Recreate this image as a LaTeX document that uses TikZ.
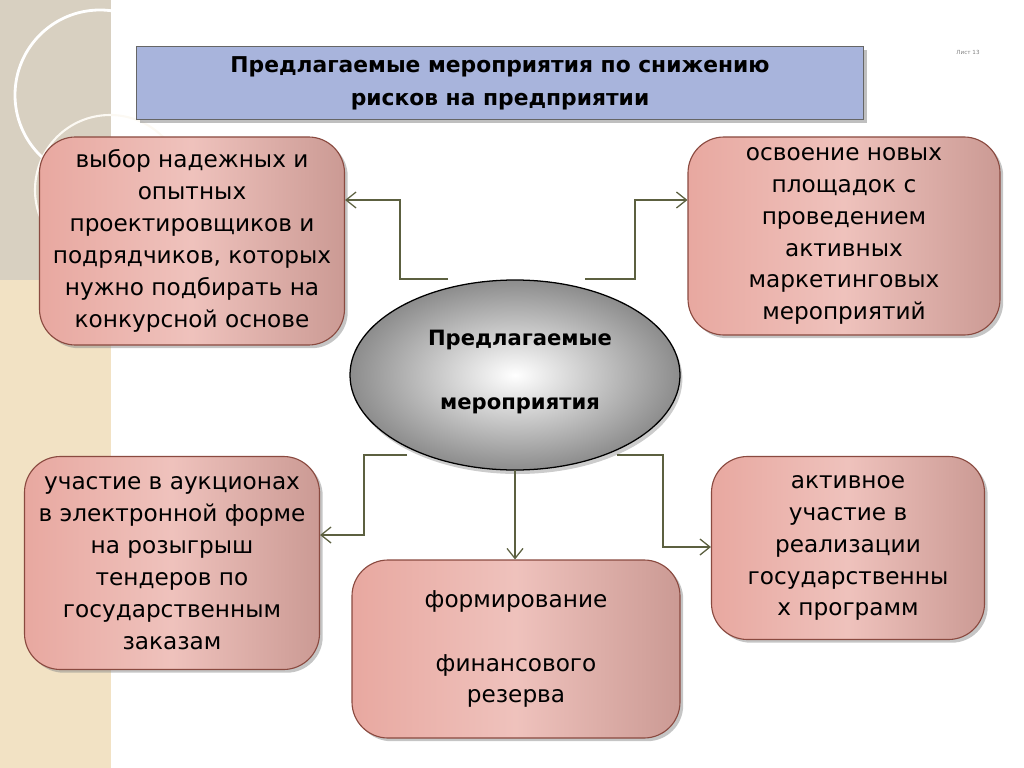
\documentclass[tikz,border=0pt]{standalone}
\usepackage{fontspec}
\setmainfont{DejaVu Sans}
\usetikzlibrary{arrows.meta,shadows}
\definecolor{boxfill}{HTML}{E8A8A0}
\definecolor{boxedge}{HTML}{8A4A40}
\definecolor{titlefill}{HTML}{A8B4DC}
\definecolor{linkcol}{HTML}{5C6040}
\definecolor{stripe}{HTML}{F2E2C4}
\tikzset{
  rbox/.style={draw=boxedge, line width=0.8pt, rounded corners=0.9cm, shade,
    left color=boxfill, right color=boxfill!85!black!90, middle color=boxfill!70!white,
    drop shadow={shadow xshift=0.08cm, shadow yshift=-0.08cm, fill=black!45},
    align=center, font=\fontsize{16.5}{22.7}\selectfont, inner sep=0pt},
  link/.style={draw=linkcol, line width=0.9pt, -{Straight Barb[length=2.5mm,width=4mm]}}
}
\begin{document}
\begin{tikzpicture}[x=0.025cm, y=-0.025cm]
  \useasboundingbox (0,0) rectangle (1024,768);
  % left stripe background
  \fill[stripe] (0,0) rectangle (112,768);
  \fill[black!25, opacity=0.5] (0,0) rectangle (112,280);
  \draw[white, line width=1.5pt] (112,0) -- (112,768);
  \draw[white, line width=2pt] (100,95) circle [radius=85];
  \draw[white!80!stripe, line width=1.5pt] (110,190) circle [radius=75];
  % title
  \node[draw=black!60, fill=titlefill, minimum width=727*0.025cm, minimum height=73*0.025cm,
    drop shadow={shadow xshift=0.08cm, shadow yshift=-0.08cm, fill=black!50},
    align=center, font=\fontsize{15.5}{23.5}\selectfont\bfseries] (title) at (500,83)
    {Предлагаемые мероприятия по снижению\\рисков на предприятии};
  \node[text=black!50, font=\fontsize{4}{5}\selectfont] (sheet) at (968,52) {Лист 13};
  % boxes
  \node[rbox, minimum width=305*0.025cm, minimum height=208*0.025cm] (lt) at (192,241)
    {выбор надежных и\\опытных\\проектировщиков и\\подрядчиков, которых\\нужно подбирать на\\конкурсной основе};
  \node[rbox, minimum width=312*0.025cm, minimum height=198*0.025cm] (rt) at (844,236)
    {освоение новых\\площадок с\\проведением\\активных\\маркетинговых\\мероприятий};
  \node[rbox, minimum width=295*0.025cm, minimum height=213*0.025cm] (lb) at (172,563)
    {участие в аукционах\\в электронной форме\\на розыгрыш\\тендеров по\\государственным\\заказам};
  \node[rbox, minimum width=328*0.025cm, minimum height=178*0.025cm] (cb) at (516,649)
    {формирование\\[22.7pt]финансового\\резерва};
  \node[rbox, minimum width=273*0.025cm, minimum height=183*0.025cm] (rb) at (848,548)
    {активное\\участие в\\реализации\\государственны\\х программ};
  % centre ellipse
  \shade[shading=radial, inner color=white, outer color=black!45,
    drop shadow={shadow xshift=0.06cm, shadow yshift=-0.1cm, fill=black!40}]
    (515,375) ellipse [x radius=165, y radius=95];
  \draw[line width=0.9pt] (515,375) ellipse [x radius=165, y radius=95];
  \node[align=center, font=\fontsize{15}{22.7}\selectfont\bfseries] (centre) at (520,372)
    {Предлагаемые\\[22.7pt]мероприятия};
  % connectors
  \coordinate (a1) at (448,279);
  \coordinate (a2) at (585,279);
  \coordinate (a3) at (407,455);
  \coordinate (a4) at (515,470);
  \coordinate (a5) at (617,455);
  \draw[link] (a1) -- (400,279) -- (400,200) -- (lt.east |- 0,200);
  \draw[link] (a2) -- (635,279) -- (635,200) -- (rt.west |- 0,200);
  \draw[link] (a3) -- (364,455) -- (364,535) -- (lb.east |- 0,535);
  \draw[link] (a4) -- (cb.north -| a4);
  \draw[link] (a5) -- (663,455) -- (663,547) -- (rb.west |- 0,547);
\end{tikzpicture}
\end{document}
